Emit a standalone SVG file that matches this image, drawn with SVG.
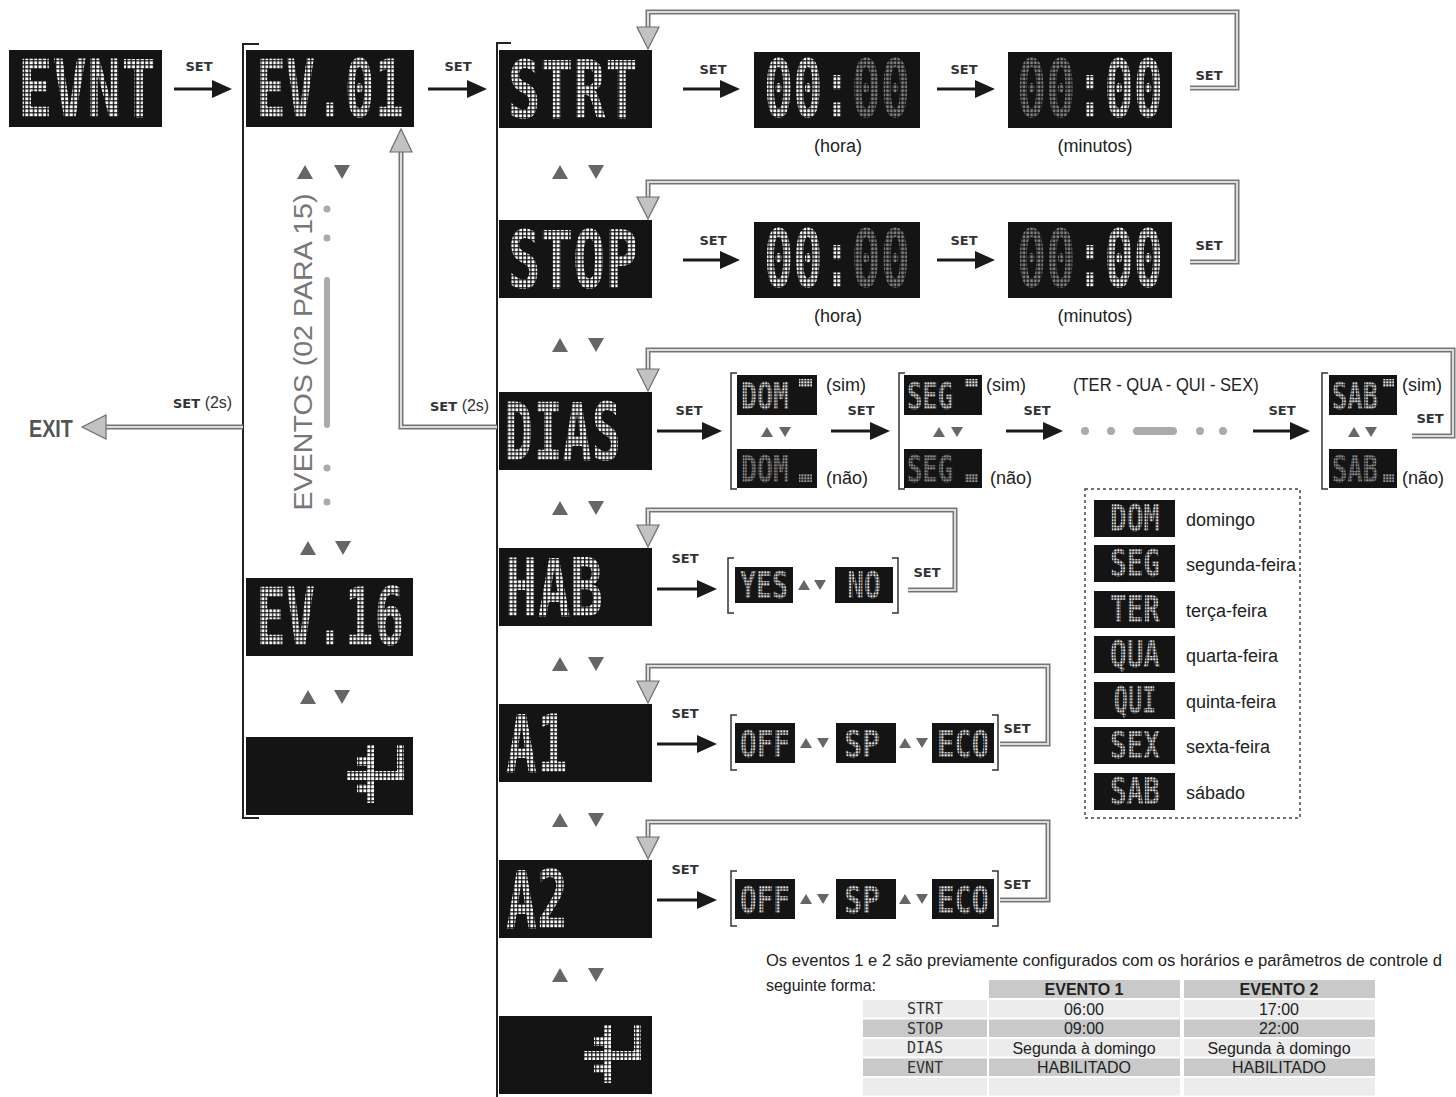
<svg xmlns="http://www.w3.org/2000/svg" width="1456" height="1097" viewBox="0 0 1456 1097">
<defs>
<style>
.disp{fill:#141414}
.lcd{font-family:"DejaVu Sans Mono",monospace;font-weight:bold;font-size:80px;text-anchor:middle}
.lcdl{font-family:"DejaVu Sans Mono",monospace;font-weight:bold;font-size:80px}
.lcds{font-family:"DejaVu Sans Mono",monospace;font-weight:bold;font-size:38px;text-anchor:middle}
.set{font-family:"DejaVu Sans",sans-serif;font-weight:bold;font-size:13px;fill:#333;text-anchor:middle}
.lbl{font-family:"Liberation Sans",Arial,sans-serif;font-size:18px;fill:#222}
.gout{fill:none;stroke:#767676;stroke-width:5}
.gin{fill:none;stroke:#dcdcdc;stroke-width:2}
.ghead{fill:#c2c2c2;stroke:#6e6e6e;stroke-width:1.2}
.blk{stroke:#1a1a1a;stroke-width:3;marker-end:url(#ah)}
.br{fill:none;stroke:#222;stroke-width:2}
.brs{fill:none;stroke:#333;stroke-width:1.5}
.dot{fill:#ababab}
.tb{font-family:"Liberation Sans",Arial,sans-serif;font-size:16px;fill:#222;text-anchor:middle}
.tbl{font-family:"DejaVu Sans Mono",monospace;font-size:15px;fill:#333;text-anchor:middle}
</style>
<pattern id="pw" width="4" height="4" patternUnits="userSpaceOnUse"><rect x="0.4" y="0.4" width="2.8" height="2.8" fill="#ffffff"/></pattern>
<pattern id="pwx" width="6.2" height="4" patternUnits="userSpaceOnUse"><rect x="0.6" y="0.4" width="4.3" height="2.8" fill="#ffffff"/></pattern>
<pattern id="pgx" width="6.2" height="4" patternUnits="userSpaceOnUse"><rect x="0.6" y="0.4" width="4.3" height="2.8" fill="#808080"/></pattern>
<pattern id="plw" width="3" height="3" patternUnits="userSpaceOnUse"><rect x="0.3" y="0.3" width="2.1" height="2.1" fill="#e6e6e6"/></pattern>
<pattern id="plg" width="3" height="3" patternUnits="userSpaceOnUse"><rect x="0.3" y="0.3" width="2.1" height="2.1" fill="#9a9a9a"/></pattern>
<pattern id="plwx" width="4.1" height="3" patternUnits="userSpaceOnUse"><rect x="0.4" y="0.3" width="2.9" height="2.1" fill="#e6e6e6"/></pattern>
<pattern id="plgx" width="4.1" height="3" patternUnits="userSpaceOnUse"><rect x="0.4" y="0.3" width="2.9" height="2.1" fill="#9a9a9a"/></pattern>
<marker id="ah" markerUnits="userSpaceOnUse" markerWidth="20" markerHeight="18" viewBox="0 0 20 18" refX="1" refY="9" orient="auto"><path d="M0,0 L20,9 L0,18 z" fill="#1a1a1a"/></marker>
<polygon id="tu" points="-8,7 8,7 0,-7" fill="#666"/>
<polygon id="td" points="-8,-7 8,-7 0,7" fill="#666"/>
<polygon id="tus" points="-6,5 6,5 0,-5" fill="#666"/>
<polygon id="tds" points="-6,-5 6,-5 0,5" fill="#666"/>
<g id="ret" fill="url(#pw)">
<rect x="50" y="0" width="7" height="35"/>
<rect x="0" y="26" width="57" height="9"/>
<rect x="20" y="0" width="7" height="58"/>
<rect x="10" y="12" width="17" height="9"/>
<rect x="10" y="39" width="17" height="9"/>
</g>
</defs>
<rect width="1456" height="1097" fill="#ffffff"/>

<g id="connectors">
<g id="brackets">
<path class="br" d="M259,44 H243 V818 H259"/>
<path class="br" d="M511,43 H497 V1097"/>
<path class="brs" d="M737,373 H731 V489 H737"/>
<path class="brs" d="M905,373 H899 V489 H905"/>
<path class="brs" d="M1328,373 H1322 V489 H1328"/>
<path class="brs" d="M734,558 H728 V613 H734"/>
<path class="brs" d="M892,558 H898 V613 H892"/>
<path class="brs" d="M737,715 H731 V770 H737"/>
<path class="brs" d="M992,715 H998 V770 H992"/>
<path class="brs" d="M737,871 H731 V926 H737"/>
<path class="brs" d="M992,871 H998 V926 H992"/>
</g>
<g id="black-arrows">
<line class="blk" x1="174" y1="89" x2="213" y2="89"/>
<line class="blk" x1="428" y1="89" x2="468" y2="89"/>
<line class="blk" x1="683" y1="89" x2="721" y2="89"/>
<line class="blk" x1="937" y1="89" x2="976" y2="89"/>
<line class="blk" x1="683" y1="260" x2="721" y2="260"/>
<line class="blk" x1="937" y1="260" x2="976" y2="260"/>
<line class="blk" x1="657" y1="431" x2="703" y2="431"/>
<line class="blk" x1="831" y1="431" x2="871" y2="431"/>
<line class="blk" x1="1006" y1="431" x2="1044" y2="431"/>
<line class="blk" x1="1253" y1="431" x2="1291" y2="431"/>
<line class="blk" x1="657" y1="589" x2="698" y2="589"/>
<line class="blk" x1="657" y1="744" x2="698" y2="744"/>
<line class="blk" x1="657" y1="900" x2="698" y2="900"/>
</g>
<g id="gray-returns">
<path class="gout" d="M1190,88 H1237 V12 H648 V28"/><path class="gin" d="M1190,88 H1237 V12 H648 V28"/>
<polygon class="ghead" points="637,27 659,27 648,49"/>
<path class="gout" d="M1190,262 H1237 V182 H648 V198"/><path class="gin" d="M1190,262 H1237 V182 H648 V198"/>
<polygon class="ghead" points="637,197 659,197 648,219"/>
<path class="gout" d="M1412,436 H1453 V350 H648 V370"/><path class="gin" d="M1412,436 H1453 V350 H648 V370"/>
<polygon class="ghead" points="637,369 659,369 648,391"/>
<path class="gout" d="M908,590 H955 V510 H648 V526"/><path class="gin" d="M908,590 H955 V510 H648 V526"/>
<polygon class="ghead" points="637,525 659,525 648,547"/>
<path class="gout" d="M1000,744 H1048 V666 H648 V682"/><path class="gin" d="M1000,744 H1048 V666 H648 V682"/>
<polygon class="ghead" points="637,681 659,681 648,703"/>
<path class="gout" d="M1000,900 H1048 V822 H648 V838"/><path class="gin" d="M1000,900 H1048 V822 H648 V838"/>
<polygon class="ghead" points="637,837 659,837 648,859"/>
<path class="gout" d="M243,427 H104"/><path class="gin" d="M243,427 H104"/>
<polygon class="ghead" points="82,427 106,415 106,439"/>
<path class="gout" d="M497,427 H401 V151"/><path class="gin" d="M497,427 H401 V151"/>
<polygon class="ghead" points="401,129 390,152 412,152"/>
</g>
<g id="arrow-keys">
<use href="#tu" x="305" y="172"/><use href="#td" x="342" y="172"/>
<use href="#tu" x="308" y="548"/><use href="#td" x="343" y="548"/>
<use href="#tu" x="308" y="697"/><use href="#td" x="342" y="697"/>
<use href="#tu" x="560" y="172"/><use href="#td" x="596" y="172"/>
<use href="#tu" x="560" y="345"/><use href="#td" x="596" y="345"/>
<use href="#tu" x="560" y="508"/><use href="#td" x="596" y="508"/>
<use href="#tu" x="560" y="664"/><use href="#td" x="596" y="664"/>
<use href="#tu" x="560" y="820"/><use href="#td" x="596" y="820"/>
<use href="#tu" x="560" y="975"/><use href="#td" x="596" y="975"/>
<use href="#tus" x="767" y="432"/><use href="#tds" x="785" y="432"/>
<use href="#tus" x="939" y="432"/><use href="#tds" x="957" y="432"/>
<use href="#tus" x="1354" y="432"/><use href="#tds" x="1371" y="432"/>
<use href="#tus" x="804" y="585"/><use href="#tds" x="820" y="585"/>
<use href="#tus" x="806" y="743"/><use href="#tds" x="823" y="743"/>
<use href="#tus" x="905" y="743"/><use href="#tds" x="922" y="743"/>
<use href="#tus" x="806" y="899"/><use href="#tds" x="823" y="899"/>
<use href="#tus" x="905" y="899"/><use href="#tds" x="922" y="899"/>
</g>
<g id="ellipsis">
<circle class="dot" cx="327" cy="209" r="3.5"/><circle class="dot" cx="327" cy="238" r="3.5"/>
<rect class="dot" x="324" y="277" width="6" height="151" rx="3"/>
<circle class="dot" cx="327" cy="468" r="3.5"/><circle class="dot" cx="327" cy="502" r="3.5"/>
<circle class="dot" cx="1085" cy="431" r="4"/><circle class="dot" cx="1111" cy="431" r="4"/>
<rect class="dot" x="1133" y="427" width="44" height="8" rx="4"/>
<circle class="dot" cx="1200" cy="431" r="4"/><circle class="dot" cx="1223" cy="431" r="4"/>
</g>
<g id="connector-labels">
<text class="set" x="199" y="71">SET</text>
<text class="set" x="458" y="71">SET</text>
<text class="set" x="713" y="74">SET</text>
<text class="set" x="964" y="74">SET</text>
<text class="set" x="1209" y="80">SET</text>
<text class="set" x="713" y="245">SET</text>
<text class="set" x="964" y="245">SET</text>
<text class="set" x="1209" y="250">SET</text>
<text class="set" x="689" y="415">SET</text>
<text class="set" x="861" y="415">SET</text>
<text class="set" x="1037" y="415">SET</text>
<text class="set" x="1282" y="415">SET</text>
<text class="set" x="1430" y="423">SET</text>
<text class="set" x="685" y="563">SET</text>
<text class="set" x="927" y="577">SET</text>
<text class="set" x="685" y="718">SET</text>
<text class="set" x="1017" y="733">SET</text>
<text class="set" x="685" y="874">SET</text>
<text class="set" x="1017" y="889">SET</text>
<text x="173" y="408" class="set" style="text-anchor:start">SET <tspan style="font-family:'Liberation Sans',Arial,sans-serif;font-weight:normal;font-size:16px">(2s)</tspan></text>
<text x="430" y="411" class="set" style="text-anchor:start">SET <tspan style="font-family:'Liberation Sans',Arial,sans-serif;font-weight:normal;font-size:16px">(2s)</tspan></text>
<text transform="translate(29,437) scale(0.86,1)" style="font-family:'Liberation Sans',Arial,sans-serif;font-weight:bold;font-size:23px;fill:#555">EXIT</text>
<text transform="translate(312,352) rotate(-90)" style="font-family:'Liberation Sans',Arial,sans-serif;font-size:26px;fill:#777;text-anchor:middle" textLength="317" lengthAdjust="spacingAndGlyphs">EVENTOS (02 PARA 15)</text>
<text class="lbl" x="838" y="152" text-anchor="middle">(hora)</text>
<text class="lbl" x="1095" y="152" text-anchor="middle">(minutos)</text>
<text class="lbl" x="838" y="322" text-anchor="middle">(hora)</text>
<text class="lbl" x="1095" y="322" text-anchor="middle">(minutos)</text>
<text class="lbl" x="826" y="391">(sim)</text>
<text class="lbl" x="826" y="484">(não)</text>
<text class="lbl" x="986" y="391">(sim)</text>
<text class="lbl" x="990" y="484">(não)</text>
<text class="lbl" transform="translate(1073,391) scale(0.92,1)">(TER - QUA - QUI - SEX)</text>
<text class="lbl" x="1402" y="391">(sim)</text>
<text class="lbl" x="1402" y="484">(não)</text>
</g>
</g>

<g id="n-evnt"><rect class="disp" x="9" y="50" width="153" height="77"/><text class="lcd" transform="translate(87,117) scale(0.717,1)" fill="url(#pwx)">EVNT</text></g>
<g id="n-ev01"><rect class="disp" x="246" y="50" width="168" height="77"/><text class="lcd" transform="translate(330,117) scale(0.615,1)" fill="url(#pwx)">EV.01</text></g>
<g id="n-ev16"><rect class="disp" x="246" y="578" width="167" height="78"/><text class="lcd" transform="translate(330,645) scale(0.615,1)" fill="url(#pwx)">EV.16</text></g>
<g id="n-back1"><rect class="disp" x="246" y="737" width="167" height="78"/><use href="#ret" transform="translate(347,745)"/></g>

<g id="n-strt"><rect class="disp" x="499" y="50" width="153" height="78"/><text class="lcd" transform="translate(573,118) scale(0.675,1)" fill="url(#pwx)">STRT</text></g>
<g id="n-strt-h"><rect class="disp" x="754" y="52" width="166" height="76"/><text class="lcd" transform="translate(837,117) scale(0.606,1)"><tspan fill="url(#pwx)">00:</tspan><tspan fill="url(#pgx)">00</tspan></text></g>
<g id="n-strt-m"><rect class="disp" x="1008" y="52" width="164" height="76"/><text class="lcd" transform="translate(1090,117) scale(0.606,1)"><tspan fill="url(#pgx)">00</tspan><tspan fill="url(#pwx)">:00</tspan></text></g>

<g id="n-stop"><rect class="disp" x="499" y="220" width="153" height="78"/><text class="lcd" transform="translate(573,288) scale(0.675,1)" fill="url(#pwx)">STOP</text></g>
<g id="n-stop-h"><rect class="disp" x="754" y="222" width="166" height="76"/><text class="lcd" transform="translate(837,287) scale(0.606,1)"><tspan fill="url(#pwx)">00:</tspan><tspan fill="url(#pgx)">00</tspan></text></g>
<g id="n-stop-m"><rect class="disp" x="1008" y="222" width="164" height="76"/><text class="lcd" transform="translate(1090,287) scale(0.606,1)"><tspan fill="url(#pgx)">00</tspan><tspan fill="url(#pwx)">:00</tspan></text></g>

<g id="n-dias"><rect class="disp" x="499" y="392" width="153" height="78"/><text class="lcdl" transform="translate(504,460) scale(0.607,1)" fill="url(#pwx)">DIAS</text></g>
<g id="n-dom"><rect class="disp" x="737" y="375" width="80" height="40"/><text class="lcds" transform="translate(765,409) scale(0.7,1)" fill="url(#plwx)">DOM</text><rect x="799" y="379" width="13" height="8" fill="url(#plw)"/>
<rect class="disp" x="737" y="449" width="80" height="39"/><text class="lcds" transform="translate(765,482) scale(0.7,1)" fill="url(#plgx)">DOM</text><rect x="799" y="474" width="13" height="8" fill="url(#plg)"/></g>
<g id="n-seg"><rect class="disp" x="904" y="375" width="78" height="40"/><text class="lcds" transform="translate(930,409) scale(0.67,1)" fill="url(#plwx)">SEG</text><rect x="965" y="379" width="13" height="8" fill="url(#plw)"/>
<rect class="disp" x="904" y="449" width="78" height="39"/><text class="lcds" transform="translate(930,482) scale(0.67,1)" fill="url(#plgx)">SEG</text><rect x="965" y="474" width="13" height="8" fill="url(#plg)"/></g>
<g id="n-sab"><rect class="disp" x="1329" y="375" width="68" height="40"/><text class="lcds" transform="translate(1355,409) scale(0.67,1)" fill="url(#plwx)">SAB</text><rect x="1383" y="379" width="11" height="8" fill="url(#plw)"/>
<rect class="disp" x="1329" y="449" width="68" height="39"/><text class="lcds" transform="translate(1355,482) scale(0.67,1)" fill="url(#plgx)">SAB</text><rect x="1383" y="474" width="11" height="8" fill="url(#plg)"/></g>

<g id="n-hab"><rect class="disp" x="499" y="548" width="153" height="78"/><text class="lcdl" transform="translate(505,616) scale(0.678,1)" fill="url(#pwx)">HAB</text></g>
<g id="n-yes"><rect class="disp" x="735" y="567" width="58" height="36"/><text class="lcds" transform="translate(764,598) scale(0.7,1)" fill="url(#plwx)">YES</text></g>
<g id="n-no"><rect class="disp" x="835" y="567" width="58" height="36"/><text class="lcds" transform="translate(864,598) scale(0.74,1)" fill="url(#plwx)">NO</text></g>

<g id="n-a1"><rect class="disp" x="499" y="704" width="153" height="78"/><text class="lcdl" transform="translate(506,772) scale(0.644,1)" fill="url(#pwx)">A1</text></g>
<g id="n-a1-off"><rect class="disp" x="735" y="723" width="60" height="40"/><text class="lcds" transform="translate(765,757) scale(0.73,1)" fill="url(#plwx)">OFF</text></g>
<g id="n-a1-sp"><rect class="disp" x="836" y="723" width="60" height="40"/><text class="lcds" transform="translate(862,757) scale(0.79,1)" fill="url(#plwx)">SP</text></g>
<g id="n-a1-eco"><rect class="disp" x="932" y="723" width="62" height="40"/><text class="lcds" transform="translate(963,757) scale(0.76,1)" fill="url(#plwx)">ECO</text></g>

<g id="n-a2"><rect class="disp" x="499" y="860" width="153" height="78"/><text class="lcdl" transform="translate(506,928) scale(0.644,1)" fill="url(#pwx)">A2</text></g>
<g id="n-a2-off"><rect class="disp" x="735" y="879" width="60" height="40"/><text class="lcds" transform="translate(765,913) scale(0.73,1)" fill="url(#plwx)">OFF</text></g>
<g id="n-a2-sp"><rect class="disp" x="836" y="879" width="60" height="40"/><text class="lcds" transform="translate(862,913) scale(0.79,1)" fill="url(#plwx)">SP</text></g>
<g id="n-a2-eco"><rect class="disp" x="932" y="879" width="62" height="40"/><text class="lcds" transform="translate(963,913) scale(0.76,1)" fill="url(#plwx)">ECO</text></g>

<g id="n-back2"><rect class="disp" x="499" y="1016" width="153" height="78"/><use href="#ret" transform="translate(584,1025)"/></g>

<g id="legend">
<rect x="1085" y="489" width="215" height="329" fill="none" stroke="#444" stroke-width="1.5" stroke-dasharray="3 3"/>
<rect class="disp" x="1094" y="500" width="81" height="37"/><text class="lcds" transform="translate(1135,531) scale(0.73,1)" fill="url(#plwx)">DOM</text><text class="lbl" x="1186" y="526">domingo</text>
<rect class="disp" x="1094" y="545" width="81" height="37"/><text class="lcds" transform="translate(1135,576) scale(0.73,1)" fill="url(#plwx)">SEG</text><text class="lbl" x="1186" y="571">segunda-feira</text>
<rect class="disp" x="1094" y="591" width="81" height="37"/><text class="lcds" transform="translate(1135,622) scale(0.73,1)" fill="url(#plwx)">TER</text><text class="lbl" x="1186" y="617">terça-feira</text>
<rect class="disp" x="1094" y="636" width="81" height="37"/><text class="lcds" transform="translate(1135,667) scale(0.73,1)" fill="url(#plwx)">QUA</text><text class="lbl" x="1186" y="662">quarta-feira</text>
<rect class="disp" x="1094" y="682" width="81" height="37"/><text class="lcds" transform="translate(1135,713) scale(0.62,1)" fill="url(#plwx)">QUI</text><text class="lbl" x="1186" y="708">quinta-feira</text>
<rect class="disp" x="1094" y="727" width="81" height="37"/><text class="lcds" transform="translate(1135,758) scale(0.73,1)" fill="url(#plwx)">SEX</text><text class="lbl" x="1186" y="753">sexta-feira</text>
<rect class="disp" x="1094" y="773" width="81" height="37"/><text class="lcds" transform="translate(1135,804) scale(0.73,1)" fill="url(#plwx)">SAB</text><text class="lbl" x="1186" y="799">sábado</text>
</g>

<g id="note">
<text transform="translate(766,966) scale(1,1.12)" style="font-family:'Liberation Sans',Arial,sans-serif;font-size:15px;fill:#222" textLength="676" lengthAdjust="spacingAndGlyphs">Os eventos 1 e 2 são previamente configurados com os horários e parâmetros de controle d</text>
<text x="766" y="991" style="font-family:'Liberation Sans',Arial,sans-serif;font-size:17px;fill:#222" textLength="110" lengthAdjust="spacingAndGlyphs">seguinte forma:</text>
</g>
<g id="table">
<rect x="989" y="980" width="191" height="18" fill="#c9c9c9"/><rect x="1184" y="980" width="191" height="18" fill="#c9c9c9"/>
<text class="tb" x="1084" y="995" font-weight="bold" font-size="15">EVENTO 1</text>
<text class="tb" x="1279" y="995" font-weight="bold" font-size="15">EVENTO 2</text>
<g fill="#ececec"><rect x="863" y="1000" width="124" height="17.5"/><rect x="989" y="1000" width="191" height="17.5"/><rect x="1184" y="1000" width="191" height="17.5"/></g>
<g fill="#c9c9c9"><rect x="863" y="1019.5" width="124" height="17.5"/><rect x="989" y="1019.5" width="191" height="17.5"/><rect x="1184" y="1019.5" width="191" height="17.5"/></g>
<g fill="#ececec"><rect x="863" y="1039" width="124" height="17.5"/><rect x="989" y="1039" width="191" height="17.5"/><rect x="1184" y="1039" width="191" height="17.5"/></g>
<g fill="#c9c9c9"><rect x="863" y="1058.5" width="124" height="17.5"/><rect x="989" y="1058.5" width="191" height="17.5"/><rect x="1184" y="1058.5" width="191" height="17.5"/></g>
<g fill="#ececec"><rect x="863" y="1078" width="124" height="17.5"/><rect x="989" y="1078" width="191" height="17.5"/><rect x="1184" y="1078" width="191" height="17.5"/></g>
<text class="tbl" x="925" y="1014">STRT</text><text class="tb" x="1084" y="1014.5">06:00</text><text class="tb" x="1279" y="1014.5">17:00</text>
<text class="tbl" x="925" y="1033.5">STOP</text><text class="tb" x="1084" y="1034">09:00</text><text class="tb" x="1279" y="1034">22:00</text>
<text class="tbl" x="925" y="1053">DIAS</text><text class="tb" x="1084" y="1053.5">Segunda à domingo</text><text class="tb" x="1279" y="1053.5">Segunda à domingo</text>
<text class="tbl" x="925" y="1072.5">EVNT</text><text class="tb" x="1084" y="1073">HABILITADO</text><text class="tb" x="1279" y="1073">HABILITADO</text>
</g>
</svg>
